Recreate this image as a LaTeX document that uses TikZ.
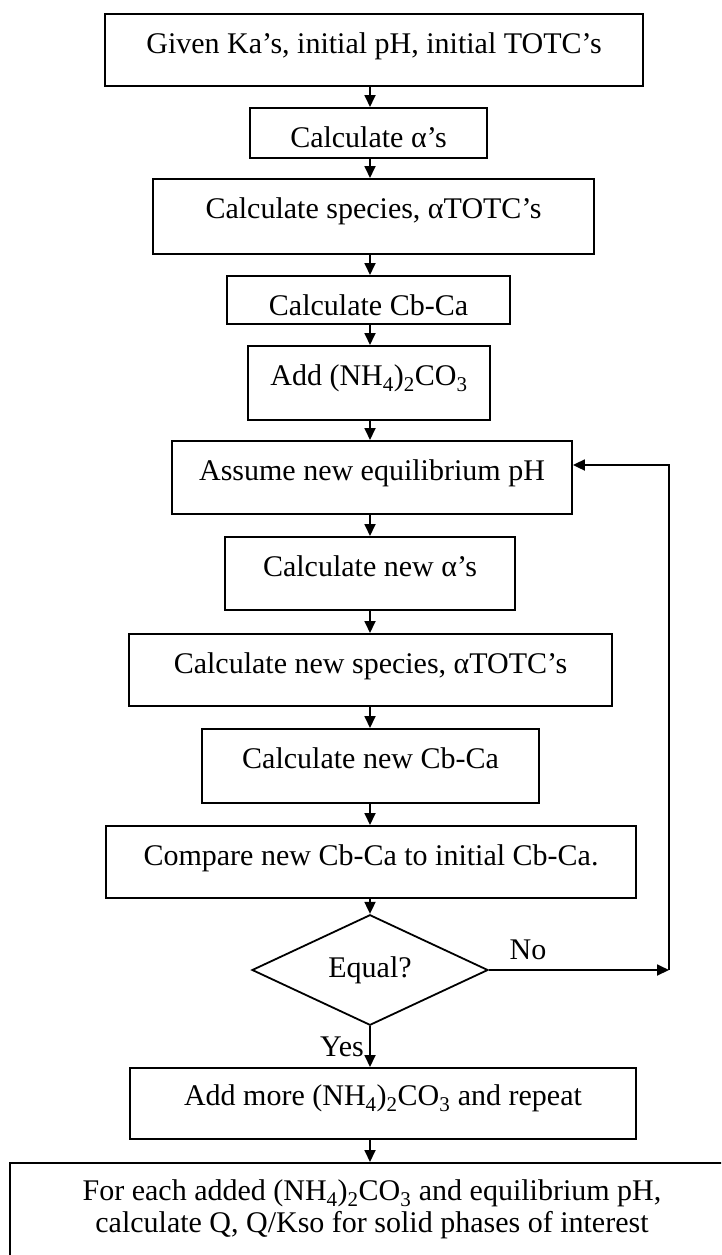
\documentclass[tikz,border=0pt]{standalone}
\usepackage{fontspec}
\setmainfont{Liberation Serif}
\usetikzlibrary{shapes.geometric,arrows.meta}
\begin{document}
\begin{tikzpicture}[x=1pt,y=-1pt,
  every node/.style={font=\fontsize{30}{30}\selectfont},
  stepbox/.style={draw, line width=1.8pt, rectangle, anchor=north, inner sep=0pt, text height=40pt},
  decision/.style={draw, diamond, line width=1.8pt, inner sep=0pt},
  arr/.style={line width=1.8pt, -{Triangle[length=12pt,width=11pt]}},
  lbl/.style={inner sep=0pt}
  ]
\useasboundingbox (0,0) rectangle (721,1255);
\clip (0,0) rectangle (721,1255);
\coordinate (ax) at (370,0);
\node[stepbox, minimum width=538pt, text depth=32pt] (b1) at (374,13) {Given Ka’s, initial pH, initial TOTC’s};
\node[stepbox, minimum width=237pt, text depth=10pt] (b2) at (368.5,107) {Calculate α’s};
\node[stepbox, minimum width=441pt, text depth=35pt] (b3) at (373.5,178) {Calculate species, αTOTC’s};
\node[stepbox, minimum width=283pt, text depth=8pt] (b4) at (368.5,275) {Calculate Cb-Ca};
\node[stepbox, minimum width=242pt, text depth=34pt] (b5) at (369,345) {Add (NH\textsubscript{4})\textsubscript{2}CO\textsubscript{3}};
\node[stepbox, minimum width=400pt, text depth=33pt] (b6) at (372,440) {Assume new equilibrium pH};
\node[stepbox, minimum width=290pt, text depth=33pt] (b7) at (370,536) {Calculate new α’s};
\node[stepbox, minimum width=483pt, text depth=32pt] (b8) at (370.5,633) {Calculate new species, αTOTC’s};
\node[stepbox, minimum width=337pt, text depth=34pt] (b9) at (370.5,728) {Calculate new Cb-Ca};
\node[stepbox, minimum width=530pt, text depth=32pt] (b10) at (371,825) {Compare new Cb-Ca to initial Cb-Ca.};
\node[decision, minimum width=236pt, minimum height=96pt] (dia) at (370,970) {Equal?};
\node[stepbox, minimum width=506pt, text height=38pt, text depth=33pt] (b12) at (383,1067) {Add more (NH\textsubscript{4})\textsubscript{2}CO\textsubscript{3} and repeat};
\node[stepbox, minimum width=724pt, text height=38pt, text depth=62pt, font=\fontsize{30}{32}\selectfont] (b13) at (372,1162)
  {\begin{tabular}[t]{@{}c@{}}For each added (NH\textsubscript{4})\textsubscript{2}CO\textsubscript{3} and equilibrium pH,\\ calculate Q, Q/Kso for solid phases of interest\end{tabular}};
\node[lbl] (no) at (528,950) {No};
\node[lbl] (yes) at (342,1047) {Yes};
\coordinate (c1) at (669,970);
\coordinate (c2) at (669,465);
\draw[arr] (b1.south -| ax) -- (b2.north -| ax);
\draw[arr] (b2.south -| ax) -- (b3.north -| ax);
\draw[arr] (b3.south -| ax) -- (b4.north -| ax);
\draw[arr] (b4.south -| ax) -- (b5.north -| ax);
\draw[arr] (b5.south -| ax) -- (b6.north -| ax);
\draw[arr] (b6.south -| ax) -- (b7.north -| ax);
\draw[arr] (b7.south -| ax) -- (b8.north -| ax);
\draw[arr] (b8.south -| ax) -- (b9.north -| ax);
\draw[arr] (b9.south -| ax) -- (b10.north -| ax);
\draw[arr] (b10.south -| ax) -- (dia.north);
\draw[arr] (dia.south) -- (b12.north -| ax);
\draw[arr] (b12.south -| ax) -- (b13.north -| ax);
\draw[arr] (dia.east) -- (c1);
\draw[arr] (c1) -- (c2) -- (c2 -| b6.east);
\end{tikzpicture}
\end{document}
